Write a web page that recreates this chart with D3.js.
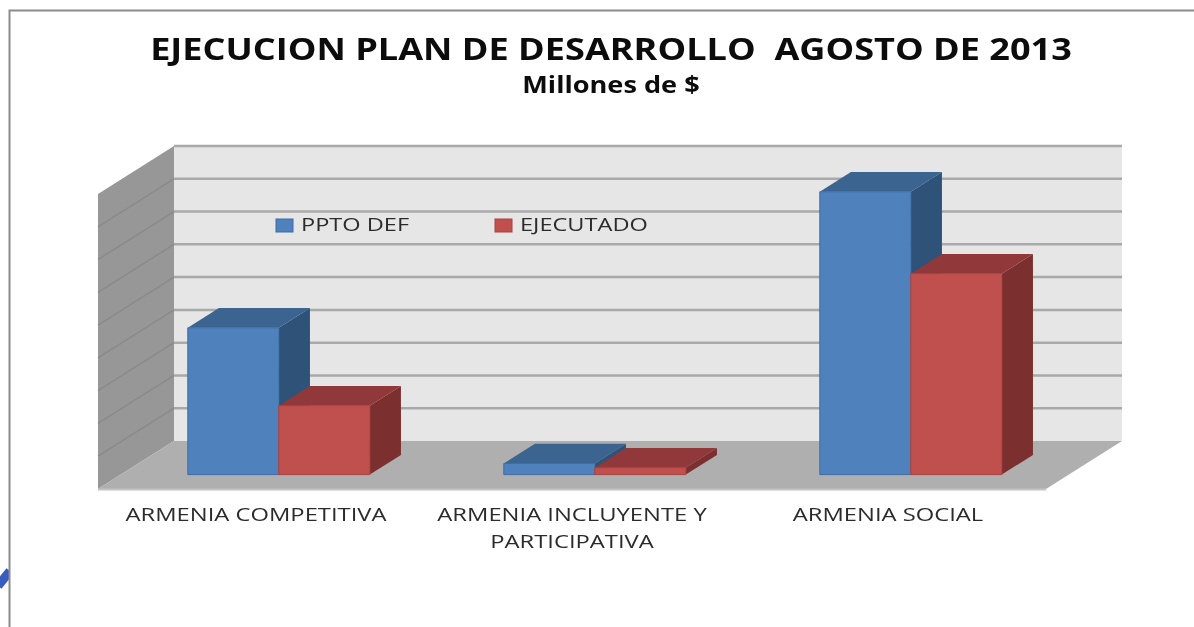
<!DOCTYPE html>
<html>
<head>
<meta charset="utf-8">
<script src="https://cdn.jsdelivr.net/npm/d3@7/dist/d3.min.js"></script>
<style>
    html, body { margin: 0; padding: 0; background: #fff; }
    svg { display: block; filter: blur(0.6px); }
    text { font-family: "Open Sans", sans-serif; }
</style>
</head>
<body>
<div id="chart"></div>
<script>
const categories = ["ARMENIA COMPETITIVA", "ARMENIA INCLUYENTE Y PARTICIPATIVA", "ARMENIA SOCIAL"];
const seriesNames = ["PPTO DEF", "EJECUTADO"];
const pptoDef = [44.8, 3.4, 86.3];
const ejecutado = [21, 2.1, 61.3];
const gridTicks = [0, 10, 20, 30, 40, 50, 60, 70, 80, 90];
const chartTitle = "EJECUCION PLAN DE DESARROLLO  AGOSTO DE 2013";
const chartSubtitle = "Millones de $";

const width = 1194,
    height = 627,
    margin = { left: 98, right: 148, top: 194, bottom: 138 };

// how far the back wall is pushed right and up from the front plane
const depthX = 76,
    depthY = 48;

const colors = {
    "PPTO DEF": { front: "#4f81bd", top: "#3b6491", side: "#2f5279", edge: "#3e6da6" },
    "EJECUTADO": { front: "#c0504d", top: "#91393a", side: "#7b302f", edge: "#a84340" }
};

// the original text is stretched sideways, so widen it by a factor
function stretch(selection, factor) {
    selection.each(function() {
        this.setAttribute("lengthAdjust", "spacingAndGlyphs");
        this.setAttribute("textLength", this.getComputedTextLength() * factor);
    });
}

const svg = d3.select("#chart").append("svg")
    .attr("width", width)
    .attr("height", height);

// bit of logo peeking in on the left, then the picture frame
svg.append("path")
    .attr("d", "M-2,586L10,571")
    .attr("stroke", "#3a5cc0")
    .attr("stroke-width", 9);
svg.append("rect")
    .attr("x", 10).attr("y", 560)
    .attr("width", 10).attr("height", 40)
    .attr("fill", "#fff");
svg.append("path")
    .attr("d", "M9.5,627V10.5H1194")
    .attr("fill", "none")
    .attr("stroke", "#8c8c8c")
    .attr("stroke-width", 2);

const xScale = d3.scaleBand()
    .domain(categories)
    .range([margin.left, width - margin.right])
    .paddingInner(0.424)
    .paddingOuter(0.212);

const xSeries = d3.scaleBand()
    .domain(seriesNames)
    .range([0, xScale.bandwidth()]);

const yScale = d3.scaleLinear()
    .domain([0, 90])
    .range([height - margin.bottom, margin.top]);

// x, y on the front plane, z from 0 (front) to 1 (back wall)
const project = (x, y, z) => [x + depthX * z, y - depthY * z];
const poly = (pts) => "M" + pts.map((p) => p.join(",")).join("L") + "Z";

const x0 = margin.left,
    x1 = width - margin.right,
    yBase = yScale(0),
    yTop = yScale(90);

// Back wall
svg.append("path")
    .attr("d", poly([project(x0, yTop, 1), project(x1, yTop, 1), project(x1, yBase, 1), project(x0, yBase, 1)]))
    .attr("fill", "#e6e6e6");

// Side wall
svg.append("path")
    .attr("d", poly([project(x0, yTop, 0), project(x0, yTop, 1), project(x0, yBase, 1), project(x0, yBase, 0)]))
    .attr("fill", "#979797");

// Floor
svg.append("path")
    .attr("d", poly([project(x0, yBase, 0), project(x0, yBase, 1), project(x1, yBase, 1), project(x1, yBase, 0)]))
    .attr("fill", "#afafaf");
svg.append("line")
    .attr("x1", x0).attr("x2", x1)
    .attr("y1", yBase + 0.5).attr("y2", yBase + 0.5)
    .attr("stroke", "#c4c4c4")
    .attr("stroke-width", 2);

// Gridlines on the side wall and on the back wall
const wallTicks = gridTicks.filter((d) => d > 0);

svg.append("g").attr("class", "grid side")
    .selectAll("path")
    .data(wallTicks.filter((d) => d < 90))
    .join("path")
    .attr("fill", "none")
    .attr("stroke", "#8a8a8a")
    .attr("stroke-width", 1.5)
    .attr("d", (d) => "M" + project(x0, yScale(d), 0) + "L" + project(x0, yScale(d), 1));

svg.append("g").attr("class", "grid back")
    .selectAll("path")
    .data(wallTicks)
    .join("path")
    .attr("fill", "none")
    .attr("stroke", "#a9a9a9")
    .attr("stroke-width", 2.5)
    .attr("d", (d) => "M" + project(x0, yScale(d), 1) + "L" + project(x1, yScale(d), 1));

// Bars: each one is top, side and front faces
const barDepth = [0.3, 0.71];
const rows = [];
categories.forEach((c, i) => {
    rows.push({ category: c, series: seriesNames[0], value: pptoDef[i] });
    rows.push({ category: c, series: seriesNames[1], value: ejecutado[i] });
});

const bars = svg.append("g").attr("class", "bars")
    .selectAll("g")
    .data(rows)
    .join("g");

function corners(d) {
    const left = xScale(d.category) + xSeries(d.series),
        right = left + xSeries.bandwidth(),
        y = yScale(d.value);
    return { left, right, y };
}

bars.append("path")
    .attr("fill", (d) => colors[d.series].side)
    .attr("d", (d) => {
        const c = corners(d);
        return poly([project(c.right, c.y, barDepth[0]), project(c.right, c.y, barDepth[1]),
            project(c.right, yBase, barDepth[1]), project(c.right, yBase, barDepth[0])]);
    });

bars.append("path")
    .attr("fill", (d) => colors[d.series].top)
    .attr("d", (d) => {
        const c = corners(d);
        return poly([project(c.left, c.y, barDepth[0]), project(c.left, c.y, barDepth[1]),
            project(c.right, c.y, barDepth[1]), project(c.right, c.y, barDepth[0])]);
    });

bars.append("path")
    .attr("fill", (d) => colors[d.series].front)
    .attr("stroke", (d) => colors[d.series].edge)
    .attr("stroke-width", 1)
    .attr("d", (d) => {
        const c = corners(d);
        return poly([project(c.left, c.y, barDepth[0]), project(c.right, c.y, barDepth[0]),
            project(c.right, yBase, barDepth[0]), project(c.left, yBase, barDepth[0])]);
    });

// Category labels
const xAxis = d3.axisBottom(xScale).tickSize(0).tickPadding(0);
const axisG = svg.append("g")
    .attr("class", "axis x")
    .attr("transform", "translate(0," + yBase + ")")
    .call(xAxis);
axisG.select(".domain").remove();
axisG.selectAll("text")
    .attr("font-size", 18)
    .attr("font-family", "'Open Sans', sans-serif")
    .attr("fill", "#2b2b2b")
    .attr("dy", null)
    .attr("y", 0)
    .each(function(d) {
        // wrap the long one after the Y, as in the original
        const cut = d.indexOf(" Y ");
        const parts = cut > 0 ? [d.slice(0, cut + 2), d.slice(cut + 3)] : [d];
        const t = d3.select(this).text(null);
        parts.forEach((p, i) => {
            t.append("tspan")
                .attr("x", 0)
                .attr("y", 32 + i * 27)
                .text(p)
                .call(stretch, 1.32);
        });
    });

// Legend
const legend = svg.append("g").attr("class", "legend")
    .selectAll("g")
    .data(seriesNames)
    .join("g")
    .attr("transform", (d, i) => "translate(" + (276 + i * 219) + ",219)");
legend.append("rect")
    .attr("width", 17)
    .attr("height", 13)
    .attr("fill", (d) => colors[d].front)
    .attr("stroke", (d) => colors[d].edge);
legend.append("text")
    .attr("x", 25)
    .attr("y", 12)
    .attr("font-size", 19)
    .attr("fill", "#2b2b2b")
    .text((d) => d)
    .call(stretch, 1.24);

// Titles
svg.append("text")
    .attr("x", 611)
    .attr("y", 60)
    .attr("text-anchor", "middle")
    .attr("font-size", 31)
    .attr("font-weight", 700)
    .attr("fill", "#0c0c0c")
    .style("white-space", "pre")
    .text(chartTitle)
    .call(stretch, 1.164);

svg.append("text")
    .attr("x", 611)
    .attr("y", 93)
    .attr("text-anchor", "middle")
    .attr("font-size", 23)
    .attr("font-weight", 700)
    .attr("fill", "#0c0c0c")
    .text(chartSubtitle)
    .call(stretch, 1.18);
</script>
</body>
</html>
